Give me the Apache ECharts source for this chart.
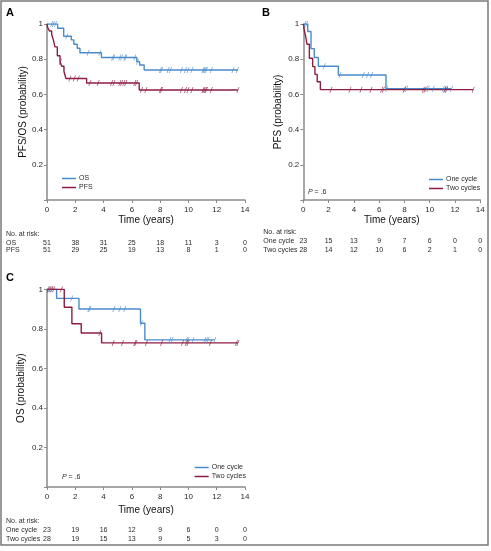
<!DOCTYPE html>
<html><head><meta charset="utf-8">
<script src="https://cdn.jsdelivr.net/npm/echarts@6/dist/echarts.min.js"></script>
<style>html,body{margin:0;padding:0;background:#fff}#c{width:491px;height:551px}</style>
</head><body><div id="c"></div>
<script>
const xTicks = [0, 2, 4, 6, 8, 10, 12, 14];
const yTicks = [0.2, 0.4, 0.6, 0.8, 1];

// Panel A
const aOS_eventT = [0.75, 1.18, 1.72, 1.9, 2.14, 2.33, 3.85, 6.35, 6.55, 6.87];
const aOS_surv   = [0.976, 0.93, 0.91, 0.885, 0.862, 0.837, 0.81, 0.786, 0.767, 0.739];
const aOS_censor = [0.33, 0.45, 0.6, 1.4, 2.91, 3.74, 4.64, 4.73, 5.15, 5.27, 5.5, 5.57, 6.21, 6.4, 8.02, 8.1, 8.56, 8.73, 9.5, 9.79, 9.97, 10.25, 11.03, 11.1, 11.2, 11.27, 11.62, 13.15, 13.46];
const aOS_end = 13.5;
const aPFS_eventT = [0.05, 0.17, 0.33, 0.45, 0.56, 0.73, 0.92, 1.04, 1.2, 1.34, 2.8, 6.52];
const aPFS_surv   = [0.98, 0.96, 0.94, 0.91, 0.87, 0.82, 0.785, 0.76, 0.73, 0.69, 0.665, 0.625];
const aPFS_censor = [0.95, 1.62, 1.93, 2.21, 3.03, 3.62, 4.57, 4.73, 5.15, 5.27, 5.43, 5.57, 6.21, 6.33, 6.68, 6.99, 8.02, 8.1, 9.5, 9.79, 9.97, 10.25, 11.03, 11.1, 11.2, 11.27, 11.62, 13.5];
const aPFS_end = 13.5;
const aRiskOS  = [51, 38, 31, 25, 18, 11, 3, 0];
const aRiskPFS = [51, 29, 25, 19, 13, 8, 1, 0];

// Panel B (PFS by cycles)
const bOne_eventT = [0.35, 0.61, 0.87, 1.19, 2.77, 6.54];
const bOne_surv   = [0.957, 0.86, 0.81, 0.76, 0.71, 0.632];
const bOne_censor = [0.13, 0.26, 1.66, 2.9, 4.74, 5.09, 5.4, 6.6, 8.04, 8.17, 9.75, 9.88, 10.28, 11.07, 11.2, 11.33, 11.73];
const bOne_end = 11.73;
const bTwo_eventT = [0.08, 0.19, 0.29, 0.48, 0.74, 0.92, 1.1, 1.35];
const bTwo_surv   = [0.964, 0.929, 0.885, 0.805, 0.758, 0.714, 0.672, 0.627];
const bTwo_censor = [2.19, 3.69, 4.56, 5.35, 6.2, 6.33, 7.98, 9.49, 9.62, 11.2, 11.33, 13.44];
const bTwo_end = 13.44;
const bRiskOne = [23, 15, 13, 9, 7, 6, 0, 0];
const bRiskTwo = [28, 14, 12, 10, 6, 2, 1, 0];

// Panel C (OS by cycles)
const cOne_eventT = [0.68, 2.26, 6.61, 6.92];
const cOne_surv   = [0.954, 0.90, 0.828, 0.744];
const cOne_censor = [0.15, 0.3, 1.74, 2.96, 3.03, 4.73, 5.15, 5.5, 6.68, 8.68, 8.84, 9.86, 9.97, 10.32, 11.15, 11.27, 11.38, 11.86];
const cOne_end = 11.86;
const cTwo_eventT = [1.22, 1.76, 2.42, 3.86];
const cTwo_surv   = [0.909, 0.826, 0.779, 0.729];
const cTwo_censor = [0.08, 0.22, 0.35, 0.47, 1.02, 3.74, 4.68, 5.34, 6.21, 6.28, 7.03, 8.1, 9.58, 9.86, 9.97, 11.55, 13.39, 13.5];
const cTwo_end = 13.5;
const cRiskOne = [23, 19, 16, 12, 9, 6, 0, 0];
const cRiskTwo = [28, 19, 15, 13, 9, 5, 3, 0];

const BLUE = '#4a8bcb', RED = '#8e1c40', AX = '#8a8a8a', TXT = '#2a2a2a';
const FONT = "'Liberation Sans', Arial, sans-serif";

function survAt(times, surv, t) { let s = 1; for (let i = 0; i < times.length; i++) if (times[i] <= t) s = surv[i]; return s; }
function kmSeries(name, times, surv, end, color, idx) {
  const data = [[0, 1]];
  times.forEach((t, i) => data.push([t, surv[i]]));
  data.push([end, surv[surv.length - 1]]);
  return { name, type: 'line', step: 'end', xAxisIndex: idx, yAxisIndex: idx, data, showSymbol: false, symbol: 'none',
    lineStyle: { color, width: 1.4 }, itemStyle: { color }, z: 3, animation: false };
}
function censorSeries(name, times, surv, cens, color, idx) {
  return { name: name + ' censored', type: 'scatter', xAxisIndex: idx, yAxisIndex: idx,
    data: cens.map(t => [t, survAt(times, surv, t)]),
    symbol: 'path://M3,0 L4,0 L1,10 L0,10 Z', symbolSize: [3, 6], itemStyle: { color }, z: 4, animation: false, silent: true };
}
function xAx(idx) {
  return { gridIndex: idx, type: 'value', min: 0, max: 14, interval: 2,
    axisLine: { lineStyle: { color: AX, width: 1.5 } }, axisTick: { length: 3, lineStyle: { color: AX } },
    axisLabel: { fontSize: 8, color: TXT, margin: 6, fontFamily: FONT }, splitLine: { show: false },
    name: 'Time (years)', nameLocation: 'middle', nameGap: idx === 2 ? 18 : 15,
    nameTextStyle: { fontSize: 10, color: '#111', fontFamily: FONT } };
}
function yAx(idx, name, gap) {
  return { gridIndex: idx, type: 'value', min: 0, max: 1, interval: 0.2,
    axisLine: { lineStyle: { color: AX, width: 1.5 } }, axisTick: { length: 3, lineStyle: { color: AX } },
    axisLabel: { fontSize: 8, color: TXT, margin: 4, fontFamily: FONT,
      formatter: v => (v === 0 ? '' : (v === 1 ? '1' : v.toFixed(1))) },
    splitLine: { show: false }, name, nameLocation: 'middle', nameGap: gap,
    nameTextStyle: { fontSize: 10, color: '#111', fontFamily: FONT } };
}
const legStyle = { orient: 'vertical', icon: 'rect', itemWidth: 14, itemHeight: 1.5, itemGap: 2,
  textStyle: { fontSize: 7, color: TXT, fontFamily: FONT, padding: [0, 0, 0, -2] }, padding: 0, selectedMode: false };

const chart = echarts.init(document.getElementById('c'), null, { renderer: 'canvas' });
chart.setOption({
  animation: false,
  backgroundColor: '#fff',
  grid: [
    { left: 47, top: 24, width: 198, height: 176 },
    { left: 303.3, top: 24, width: 177, height: 176 },
    { left: 47, top: 289.3, width: 198, height: 197.7 }
  ],
  xAxis: [xAx(0), xAx(1), xAx(2)],
  yAxis: [yAx(0, 'PFS/OS (probability)', 19), yAx(1, 'PFS (probability)', 20), yAx(2, 'OS (probability)', 21)],
  legend: [
    Object.assign({ data: ['OS', 'PFS'], left: 62, top: 175 }, legStyle),
    Object.assign({ data: ['One cycle', 'Two cycles'], left: 429, top: 176 }, legStyle),
    Object.assign({ data: ['One cycle', 'Two cycles'], left: 194.7, top: 464 }, legStyle)
  ],
  series: [
    kmSeries('OS', aOS_eventT, aOS_surv, aOS_end, BLUE, 0),
    kmSeries('PFS', aPFS_eventT, aPFS_surv, aPFS_end, RED, 0),
    censorSeries('OS', aOS_eventT, aOS_surv, aOS_censor, BLUE, 0),
    censorSeries('PFS', aPFS_eventT, aPFS_surv, aPFS_censor, RED, 0),
    kmSeries('One cycle', bOne_eventT, bOne_surv, bOne_end, BLUE, 1),
    kmSeries('Two cycles', bTwo_eventT, bTwo_surv, bTwo_end, RED, 1),
    censorSeries('One cycle B', bOne_eventT, bOne_surv, bOne_censor, BLUE, 1),
    censorSeries('Two cycles B', bTwo_eventT, bTwo_surv, bTwo_censor, RED, 1),
    kmSeries('One cycle', cOne_eventT, cOne_surv, cOne_end, BLUE, 2),
    kmSeries('Two cycles', cTwo_eventT, cTwo_surv, cTwo_end, RED, 2),
    censorSeries('One cycle C', cOne_eventT, cOne_surv, cOne_censor, BLUE, 2),
    censorSeries('Two cycles C', cTwo_eventT, cTwo_surv, cTwo_censor, RED, 2)
  ]
});

function txt(text, x, y, opts) {
  return { type: 'text', silent: true, style: Object.assign({ text, x, y, fontSize: 7, fill: TXT, fontFamily: FONT,
    textAlign: 'left', textVerticalAlign: 'middle' }, opts || {}) };
}
const g = [];
g.push({ type: 'rect', silent: true, shape: { x: 1, y: 1, width: 487, height: 544 }, style: { fill: 'none', stroke: '#7a7a7a', lineWidth: 1.5 } });
g.push(txt('A', 6, 13, { fontSize: 11, fontWeight: 'bold', fill: '#000' }));
g.push(txt('B', 262, 13, { fontSize: 11, fontWeight: 'bold', fill: '#000' }));
g.push(txt('C', 6, 278, { fontSize: 11, fontWeight: 'bold', fill: '#000' }));
function pval(x, y) {
  return { type: 'text', silent: true, style: { text: '{i|P} = .6', x, y, textVerticalAlign: 'middle',
    rich: { i: { fontStyle: 'italic', fontSize: 7, fill: TXT, fontFamily: FONT } }, fontSize: 7, fill: TXT, fontFamily: FONT } };
}
g.push(pval(308, 192));
g.push(pval(62, 477.3));
function riskTable(idx, labelX, ys, labels, rows) {
  g.push(txt('No. at risk:', labelX, ys[0]));
  rows.forEach((row, r) => {
    g.push(txt(labels[r], labelX, ys[r + 1]));
    row.forEach((n, k) => {
      const px = chart.convertToPixel({ xAxisIndex: idx }, xTicks[k]);
      g.push(txt(String(n), px, ys[r + 1], { textAlign: 'center' }));
    });
  });
}
riskTable(0, 6, [234.5, 242.8, 250.5], ['OS', 'PFS'], [aRiskOS, aRiskPFS]);
riskTable(1, 263.3, [231.7, 241, 250.3], ['One cycle', 'Two cycles'], [bRiskOne, bRiskTwo]);
riskTable(2, 6, [521.3, 530.3, 539], ['One cycle', 'Two cycles'], [cRiskOne, cRiskTwo]);
chart.setOption({ graphic: g });
</script></body></html>
